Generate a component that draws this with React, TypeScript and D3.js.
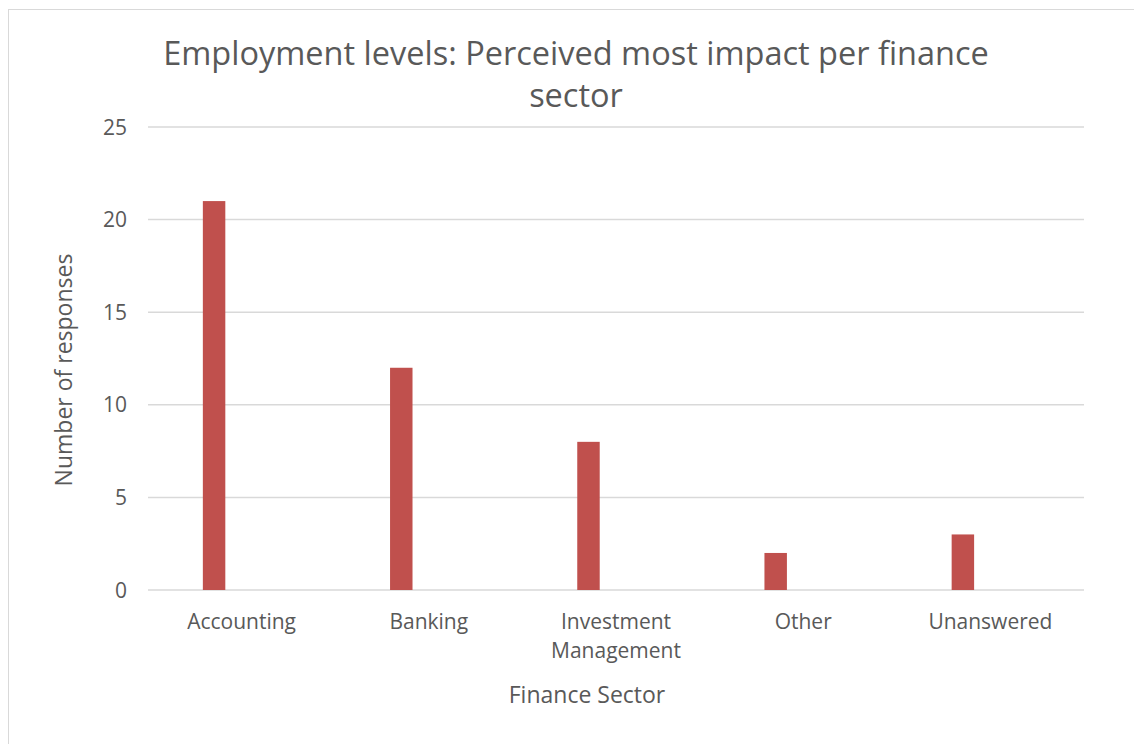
import React from "react";
import * as d3 from "d3";

const categories = ["Accounting", "Banking", "Investment Management", "Other", "Unanswered"];
const categoryLines = [["Accounting"], ["Banking"], ["Investment", "Management"], ["Other"], ["Unanswered"]];
const responses = [21, 12, 8, 2, 3];
const yTicks = [0, 5, 10, 15, 20, 25];
const titleLines = ["Employment levels: Perceived most impact per finance", "sector"];
const xTitle = "Finance Sector";
const yTitle = "Number of responses";

const W = 1134;
const H = 744;
const plot = { left: 148, right: 1084, top: 127, bottom: 590 };
const FONT = "'Open Sans', 'Noto Sans', sans-serif";
const TXT = "#595959";

export default function App() {
  const x = d3.scaleBand<string>().domain(categories).range([plot.left, plot.right]).padding(0);
  const y = d3.scaleLinear().domain([0, 25]).range([plot.bottom, plot.top]);
  const bw = x.bandwidth();
  const barOffset = bw * 0.293;
  const barW = bw * 0.12;

  return (
    <svg width={W} height={H} style={{ position: "absolute", left: 0, top: 0, background: "#fff" }}>
      <rect x={8.5} y={9.5} width={W} height={H} fill="#fff" stroke="#d9d9d9" strokeWidth={1} />
      {titleLines.map((t, i) => (
        <text key={i} x={576} y={65 + i * 42} textAnchor="middle" fontFamily={FONT} fontSize={32.5} fill={TXT}>
          {t}
        </text>
      ))}
      {yTicks.map((t) => (
        <g key={t}>
          <line x1={plot.left} x2={plot.right} y1={y(t)} y2={y(t)} stroke="#d9d9d9" strokeWidth={1.5} />
          <text x={127} y={y(t) + 7.5} textAnchor="end" fontFamily={FONT} fontSize={21} fill={TXT}>
            {t}
          </text>
        </g>
      ))}
      {categories.map((c, i) => (
        <rect
          key={c}
          x={(x(c) as number) + barOffset}
          y={y(responses[i])}
          width={barW}
          height={y(0) - y(responses[i])}
          fill="#c0504d"
        />
      ))}
      {categories.map((c, i) => (
        <text key={c} textAnchor="middle" fontFamily={FONT} fontSize={21} fill={TXT}>
          {categoryLines[i].map((l, j) => (
            <tspan key={j} x={(x(c) as number) + bw / 2} y={629 + j * 29}>
              {l}
            </tspan>
          ))}
        </text>
      ))}
      <text x={587} y={703} textAnchor="middle" fontFamily={FONT} fontSize={23} fill={TXT}>
        {xTitle}
      </text>
      <text
        transform={`translate(72, ${370}) rotate(-90)`}
        textAnchor="middle"
        fontFamily={FONT}
        fontSize={23}
        fill={TXT}
      >
        {yTitle}
      </text>
    </svg>
  );
}
